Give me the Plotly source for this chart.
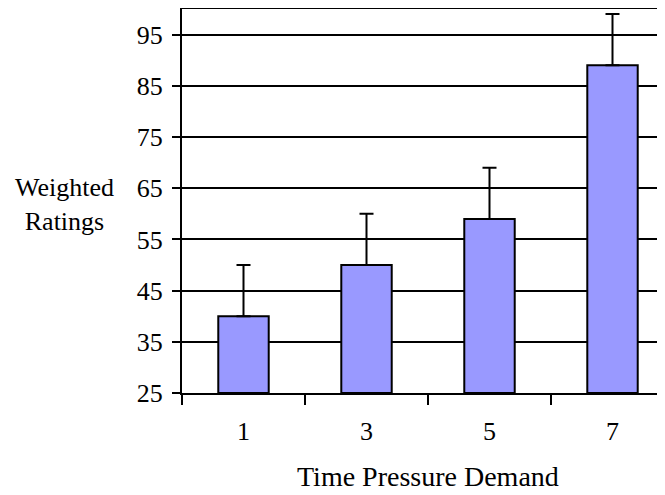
import plotly.graph_objects as go

categories = ["1", "3", "5", "7"]
ratings = [40, 50, 59, 89]
err_plus = [10, 10, 10, 10]
y_ticks = [25, 35, 45, 55, 65, 75, 85, 95]

xpos = list(range(len(categories)))
FONT = "'Liberation Serif', 'Times New Roman', Times, serif"

# page has an 8px body margin; figure coordinates = page coordinates - 8
OFF = 8
W, H = 665 - OFF, 495 - OFF
L = 182 - OFF
T = 9 - OFF
B = 495 - 393
PLOT_W = W - L
PLOT_H = H - T - B

fig = go.Figure()
fig.add_trace(go.Bar(
    x=xpos, y=[r - 25 for r in ratings], base=25,
    width=0.41,
    marker=dict(color="#9999FF", line=dict(color="black", width=2)),
    error_y=dict(type="data", symmetric=False, array=err_plus,
                 arrayminus=[0] * len(err_plus),
                 color="black", thickness=2, width=7),
    showlegend=False,
))


def px2paper(px, py):
    fx = px - OFF
    fy = py - OFF
    return (fx - L) / PLOT_W, (H - B - fy) / PLOT_H


ax1, ay1 = px2paper(64, 204)
ax2, ay2 = px2paper(428, 494)

fig.update_layout(
    width=W, height=H,
    margin=dict(l=L, r=0, t=T, b=B, autoexpand=False),
    plot_bgcolor="white", paper_bgcolor="white",
    font=dict(family=FONT, size=26, color="black"),
    xaxis=dict(
        range=[-0.5, -0.5 + PLOT_W / 123],
        tickmode="array", tickvals=xpos, ticktext=categories,
        ticks="outside", ticklen=14, tickcolor="rgba(0,0,0,0)",
        showgrid=False, zeroline=False,
        showline=True, linecolor="black", linewidth=2, mirror=True,
        minor=dict(tickmode="linear", tick0=-0.5, dtick=1, ticks="outside",
                   ticklen=10, tickwidth=2, tickcolor="black", showgrid=False),
        tickfont=dict(family=FONT, size=26),
    ),
    yaxis=dict(
        range=[25, 100],
        tickmode="array", tickvals=y_ticks,
        ticks="outside", ticklen=8, tickwidth=2, tickcolor="black",
        ticklabelstandoff=4,
        showgrid=True, gridcolor="black", gridwidth=2,
        zeroline=False,
        showline=True, linecolor="black", linewidth=2,
        tickfont=dict(family=FONT, size=26),
    ),
    annotations=[
        dict(text="Weighted<br>Ratings", xref="paper", yref="paper",
             x=ax1, y=ay1, xanchor="center", yanchor="middle",
             showarrow=False, font=dict(family=FONT, size=26), align="center"),
        dict(text="Time Pressure Demand", xref="paper", yref="paper",
             x=ax2, y=ay2, xanchor="center", yanchor="bottom",
             showarrow=False, font=dict(family=FONT, size=28)),
    ],
)

fig.write_html("out.html")
